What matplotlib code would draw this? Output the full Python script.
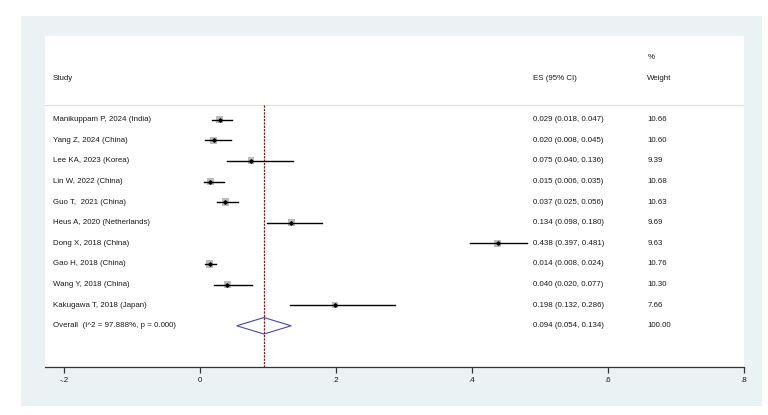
import matplotlib.pyplot as plt
from matplotlib.patches import Rectangle, Polygon
import numpy as np

plt.rcParams['font.family'] = ['Liberation Sans', 'DejaVu Sans']

studies = ["Manikuppam P, 2024 (India)", "Yang Z, 2024 (China)", "Lee KA, 2023 (Korea)",
           "Lin W, 2022 (China)", "Guo T,  2021 (China)", "Heus A, 2020 (Netherlands)",
           "Dong X, 2018 (China)", "Gao H, 2018 (China)", "Wang Y, 2018 (China)",
           "Kakugawa T, 2018 (Japan)"]
es = [0.029, 0.020, 0.075, 0.015, 0.037, 0.134, 0.438, 0.014, 0.040, 0.198]
lo = [0.018, 0.008, 0.040, 0.006, 0.025, 0.098, 0.397, 0.008, 0.020, 0.132]
hi = [0.047, 0.045, 0.136, 0.035, 0.056, 0.180, 0.481, 0.024, 0.077, 0.286]
weights = [10.66, 10.60, 9.39, 10.68, 10.63, 9.69, 9.63, 10.76, 10.30, 7.66]

overall_label = "Overall  (I^2 = 97.888%, p = 0.000)"
overall_es, overall_lo, overall_hi = 0.094, 0.054, 0.134
xticks = [-0.2, 0, 0.2, 0.4, 0.6, 0.8]
xticklabels = ["-.2", "0", ".2", ".4", ".6", ".8"]

W, H = 768, 415
fig = plt.figure(figsize=(W / 100, H / 100), dpi=100, facecolor="white")
fig.add_artist(Rectangle((21 / W, 9 / H), 741 / W, 390 / H, transform=fig.transFigure,
                         facecolor="#eaf2f3", edgecolor="none", zorder=-5))

ax = fig.add_axes([45 / W, 48 / H, 699 / W, 331 / H])
ax.set_zorder(2)
ax.set_facecolor("white")
ax.set_xlim(-0.228, 0.8)
ax.set_ylim(12.0, -4.06)

fs = 5.7
tc = "#1a1a1a"
n = len(studies)
rows = np.arange(n)

# header
ax.text(-0.216, -2, "Study", fontsize=fs, va="center", color=tc)
ax.text(0.489, -2, "ES (95% CI)", fontsize=fs, va="center", color=tc)
ax.text(0.658, -3, "%", fontsize=fs, va="center", color=tc)
ax.text(0.658, -2, "Weight", fontsize=fs, va="center", color=tc)
ax.axhline(-0.72, color="#dcdfdf", lw=0.8)

# reference line at pooled estimate
ax.plot([overall_es, overall_es], [-0.72, 12], color="#9a0c0c",
        ls=(0, (1.8, 0.9)), lw=0.9)

for i in rows:
    ax.plot([lo[i], hi[i]], [i, i], color="black", lw=1.0, zorder=3)
    ax.scatter(es[i], i, s=weights[i] * 2.6, marker="s", color="#bcbcbc",
               edgecolors="none", zorder=2)
    ax.scatter(es[i], i, s=3, marker="D", color="black", zorder=4)
    ax.text(-0.216, i, studies[i], fontsize=fs, va="center", color=tc)
    ax.text(0.489, i, f"{es[i]:.3f} ({lo[i]:.3f}, {hi[i]:.3f})", fontsize=fs,
            va="center", color=tc)
    ax.text(0.658, i, f"{weights[i]:.2f}", fontsize=fs, va="center", color=tc)

yo = n
ax.add_patch(Polygon([[overall_lo, yo], [overall_es, yo - 0.4], [overall_hi, yo],
                      [overall_es, yo + 0.4]], closed=True, fill=False,
                     edgecolor="#4848b0", lw=0.8, zorder=3))
ax.text(-0.216, yo, overall_label, fontsize=fs, va="center", color=tc)
ax.text(0.489, yo, f"{overall_es:.3f} ({overall_lo:.3f}, {overall_hi:.3f})",
        fontsize=fs, va="center", color=tc)
ax.text(0.658, yo, "100.00", fontsize=fs, va="center", color=tc)

for s in ["top", "left", "right"]:
    ax.spines[s].set_visible(False)
ax.spines["bottom"].set_color("#333333")
ax.spines["bottom"].set_linewidth(0.9)
ax.set_yticks([])
ax.set_xticks(xticks)
ax.set_xticklabels(xticklabels, fontsize=fs, color=tc)
ax.tick_params(axis="x", direction="out", length=4, width=0.9, pad=3, color="#333333")

fig.savefig("out.png", dpi=100, facecolor="white")
